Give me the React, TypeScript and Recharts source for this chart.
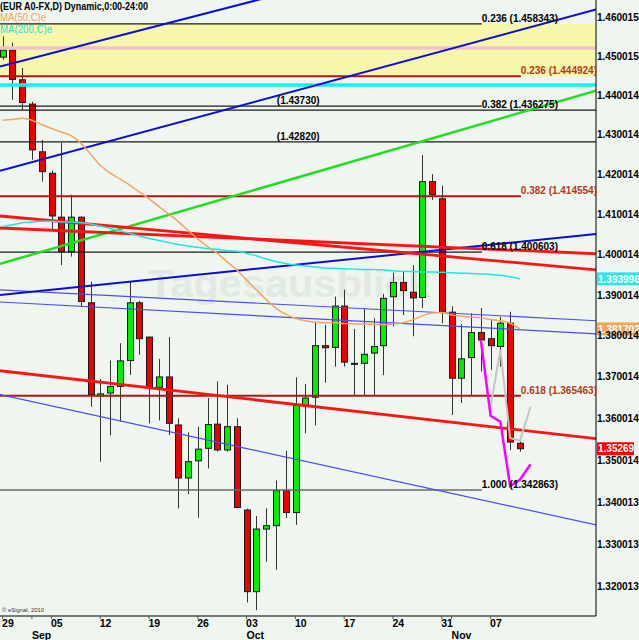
import React from 'react';
import { ComposedChart, Bar, Line, XAxis, YAxis, ReferenceLine, ReferenceArea, ReferenceDot } from 'recharts';

const W = 639;
const H = 640;
const FONT = "'Liberation Sans', Arial, Helvetica, sans-serif";

// trading-day index: 0 = Mon 29 Aug 2011 ... 53 = Thu 10 Nov 2011
const opens = [1.4498, 1.4516, 1.4440, 1.4378, 1.4257, 1.4203, 1.4093, 1.4007, 1.4093, 1.3881,
  1.3654, 1.3661, 1.3677, 1.3740, 1.3881, 1.3797, 1.3675, 1.3700, 1.3584, 1.3457,
  1.3498, 1.3528, 1.3586, 1.3524, 1.3580, 1.3381, 1.3189, 1.3336, 1.3344, 1.3427,
  1.3375, 1.3632, 1.3651, 1.3776, 1.3772, 1.3873, 1.3733, 1.3733, 1.3758, 1.3776,
  1.3896, 1.3931, 1.3907, 1.3894, 1.4182, 1.4139, 1.3858, 1.3697, 1.3747, 1.3808,
  1.3793, 1.3774, 1.3831, 1.3540];
const highs = [1.4551, 1.4535, 1.4470, 1.4384, 1.4287, 1.4210, 1.4280, 1.4149, 1.4095, 1.3933,
  1.3695, 1.3740, 1.3782, 1.3933, 1.3886, 1.3798, 1.3744, 1.3797, 1.3600, 1.3566,
  1.3580, 1.3649, 1.3689, 1.3681, 1.3600, 1.3384, 1.3367, 1.3385, 1.3451, 1.3522,
  1.3699, 1.3683, 1.3835, 1.3827, 1.3896, 1.3913, 1.3817, 1.3868, 1.3843, 1.3903,
  1.3955, 1.3960, 1.3974, 1.4249, 1.4201, 1.4172, 1.3872, 1.3829, 1.3855, 1.3868,
  1.3839, 1.3847, 1.3859, 1.3552];
const lows = [1.4491, 1.4389, 1.4363, 1.4237, 1.4182, 1.4063, 1.3974, 1.3995, 1.3873, 1.3628,
  1.3496, 1.3559, 1.3592, 1.3705, 1.3754, 1.3588, 1.3595, 1.3560, 1.3385, 1.3419,
  1.3363, 1.3480, 1.3520, 1.3520, 1.3385, 1.3164, 1.3146, 1.3259, 1.3240, 1.3362,
  1.3346, 1.3564, 1.3583, 1.3686, 1.3725, 1.3725, 1.3654, 1.3654, 1.3656, 1.3705,
  1.3823, 1.3851, 1.3799, 1.3868, 1.4136, 1.3831, 1.3608, 1.3637, 1.3656, 1.3713,
  1.3717, 1.3725, 1.3524, 1.3520];
const closes = [1.4516, 1.4441, 1.4382, 1.4262, 1.4207, 1.4096, 1.4007, 1.4093, 1.3884, 1.3657,
  1.3659, 1.3677, 1.3739, 1.3881, 1.3793, 1.3675, 1.3700, 1.3588, 1.3457, 1.3496,
  1.3526, 1.3585, 1.3524, 1.3580, 1.3387, 1.3189, 1.3336, 1.3344, 1.3427, 1.3375,
  1.3632, 1.3649, 1.3776, 1.3771, 1.3873, 1.3736, 1.3732, 1.3755, 1.3774, 1.3892,
  1.3931, 1.3911, 1.3893, 1.4182, 1.4149, 1.3859, 1.3697, 1.3744, 1.3808, 1.3790,
  1.3776, 1.3831, 1.3543, 1.3527];

const ma50 = [1.4337, 1.4339, 1.4342, 1.4337, 1.4326, 1.4316, 1.4307, 1.4298, 1.4279, 1.4252,
  1.4223, 1.4204, 1.4189, 1.4174, 1.4156, 1.4139, 1.4120, 1.4101, 1.4082, 1.4060,
  1.4039, 1.4020, 1.4003, 1.3982, 1.3962, 1.3937, 1.3913, 1.3889, 1.3868, 1.3853,
  1.3843, 1.3837, 1.3833, 1.3832, 1.3832, 1.3830, 1.3829, 1.3829, 1.3828, 1.3827,
  1.3829, 1.3832, 1.3839, 1.3849, 1.3856, 1.3857, 1.3851, 1.3848, 1.3846, 1.3844,
  1.3840, 1.3837, 1.3831, 1.3817];
const ma200 = [1.4070, 1.4074, 1.4079, 1.4081, 1.4083, 1.4083, 1.4081, 1.4081, 1.4080, 1.4076,
  1.4071, 1.4065, 1.4059, 1.4053, 1.4046, 1.4040, 1.4035, 1.4030, 1.4025, 1.4021,
  1.4018, 1.4015, 1.4013, 1.4010, 1.4008, 1.4003, 1.3997, 1.3989, 1.3983, 1.3978,
  1.3974, 1.3972, 1.3969, 1.3967, 1.3966, 1.3965, 1.3964, 1.3963, 1.3963, 1.3962,
  1.3960, 1.3958, 1.3958, 1.3957, 1.3957, 1.3956, 1.3955, 1.3954, 1.3953, 1.3952,
  1.3951, 1.3949, 1.3945, 1.3940];

// projections
const projMagentaIdx = [49, 50, 51, 52, 53, 54.1];
const projMagenta = [1.3790, 1.3606, 1.3592, 1.3438, 1.3453, 1.3490];
const projGrayIdx = [50, 51, 52, 53, 54.1];
const projGray = [1.3628, 1.3766, 1.3553, 1.3546, 1.3628];

// axis ticks
const dayTickIdx = [0, 5, 10, 15, 20, 25, 30, 35, 40, 45, 50];
const dayTickLabels = ['29', '05', '12', '19', '26', '03', '10', '17', '24', '31', '07'];
const monthTickIdx = [3, 25, 46];
const monthTickLabels = ['Sep', 'Oct', 'Nov'];
const priceTicks = [1.320013, 1.330013, 1.340013, 1.350014, 1.360014, 1.370014, 1.380014,
  1.390014, 1.400014, 1.410014, 1.420014, 1.430014, 1.440014, 1.450015, 1.460015];

const X_MIN = -0.266;
const X_MAX = 60.8;
const Y_MIN = 1.31323;
const Y_MAX = 1.46454;

// trend lines: price at left edge, price at right edge
const trendBlueUpper = [1.4474, 1.4874];
const trendBlueMain = [1.4209, 1.4621];
const trendBlueMid = [1.3900, 1.4051];
const trendGreen = [1.3977, 1.4412];
const trendRedA = [1.4066, 1.4002];
const trendRedB = [1.4096, 1.3962];
const trendRedLow = [1.3715, 1.3551];
const trendThinLow = [1.3657, 1.3346];
const trendThinU1 = [1.3913, 1.3837];
const trendThinU2 = [1.3883, 1.3805];

// fibonacci / horizontal levels
const fibLevels = [1.458343, 1.444924, 1.43730, 1.436275, 1.42820, 1.414554, 1.400603, 1.365463, 1.342863];
const fibTexts = ['0.236 (1.458343)', '0.236 (1.444924)', '(1.43730)', '0.382 (1.436275)', '(1.42820)',
  '0.382 (1.414554)', '0.618 (1.400603)', '0.618 (1.365463)', '1.000 (1.342863)'];
const fibEndIdx = [49.1, 53.1, 49.1, 60.8, 60.8, 53.1, 49.1, 53.1, 49.1];
const fibLabelIdx = [49.1, 53.1, 28.1, 49.1, 28.1, 53.1, 49.1, 53.1, 49.1];
const fibKind = ['k', 'r', 'k', 'k', 'k', 'r', 'k', 'r', 'g'];

const yellowZone = [1.444924, 1.458343];
const pinkLevel = 1.45216;
const cyanLevel = 1.44269;

const lastClose = 1.35269;
const ma50Last = 1.381702;
const ma200Last = 1.393996;

const fibStroke: Record<string, string> = { k: '#1a1a1a', r: '#a81a14', g: '#6a6a6a' };
const fibWidth: Record<string, number> = { k: 1.2, r: 2, g: 1.5 };
const fibText: Record<string, string> = { k: '#000000', r: '#b03c1c', g: '#000000' };

const Candle = (props: any) => {
  const { x, y, width, height, payload } = props;
  if (!payload || x == null || y == null) return null;
  const top = Math.min(y, y + height);
  const bot = Math.max(y, y + height);
  const lh = Math.log(payload.h);
  const ll = Math.log(payload.l);
  const span = lh - ll || 1e-9;
  const py = (v: number) => top + ((lh - Math.log(v)) / span) * (bot - top);
  const cx = Math.round(x + width / 2) + 0.5;
  const up = payload.c >= payload.o;
  const bt = py(Math.max(payload.o, payload.c));
  const bb = py(Math.min(payload.o, payload.c));
  return (
    <g>
      <line x1={cx} x2={cx} y1={top} y2={bot} stroke="#333333" strokeWidth={1} />
      <rect x={cx - 3} y={bt} width={6} height={Math.max(bb - bt, 1)}
        fill={up ? '#00ee00' : '#ee0000'} stroke="#1a1a1a" strokeWidth={1} />
    </g>
  );
};

const DateTick = (props: any) => {
  const { x, y, payload } = props;
  const v = payload?.value;
  const di = dayTickIdx.indexOf(v);
  const mi = monthTickIdx.indexOf(v);
  return (
    <g>
      <line x1={x} x2={x} y1={y} y2={y + 3} stroke="#555" />
      {di >= 0 && (
        <text x={x - 0.5} y={y + 11} fontSize={10.5} fontWeight="bold" fill="#000" fontFamily={FONT}>
          {dayTickLabels[di]}
        </text>
      )}
      {mi >= 0 && (
        <text x={x} y={y + 22.5} fontSize={10.5} fontWeight="bold" fill="#000" fontFamily={FONT}>
          {monthTickLabels[mi]}
        </text>
      )}
    </g>
  );
};

const makeFibLabel = (text: string, color: string) => (props: any) => {
  const vb = props.viewBox || {};
  const x = vb.cx ?? vb.x ?? 0;
  const y = vb.cy ?? vb.y ?? 0;
  return (
    <text x={x} y={y - 2} fill={color} fontSize={10} fontWeight="bold" fontFamily={FONT}>
      {text}
    </text>
  );
};

const makeTag = (text: string, bg: string) => (props: any) => {
  const vb = props.viewBox || {};
  const x = (vb.cx ?? vb.x ?? 0) + 1;
  const y = vb.cy ?? vb.y ?? 0;
  const w = text.length > 7 ? 42 : 37;
  return (
    <g>
      <rect x={x} y={y - 6.5} width={w} height={13} fill={bg} />
      <text x={x + 1} y={y + 3.7} fill="#ffffff" fontSize={10} fontWeight="bold" fontFamily={FONT}>
        {text}
      </text>
    </g>
  );
};

const seg = (pair: number[]) => [
  { x: X_MIN, y: pair[0] },
  { x: X_MAX, y: pair[1] },
];

export default function App() {
  const candles = opens.map((o, i) => ({ i, o, h: highs[i], l: lows[i], c: closes[i] }));
  const ma50Data = ma50.map((v, i) => ({ i, v }));
  const ma200Data = ma200.map((v, i) => ({ i, v }));
  const magentaData = projMagentaIdx.map((i, k) => ({ i, v: projMagenta[k] }));
  const grayData = projGrayIdx.map((i, k) => ({ i, v: projGray[k] }));
  const xTicks = Array.from(new Set([...dayTickIdx, ...monthTickIdx])).sort((a, b) => a - b);

  const trends = [
    { d: trendThinU1, stroke: '#4b4bff', w: 1.2 },
    { d: trendThinU2, stroke: '#4b4bff', w: 1.2 },
    { d: trendThinLow, stroke: '#4b4bff', w: 1.2 },
    { d: trendBlueUpper, stroke: '#0c0cd8', w: 2 },
    { d: trendBlueMain, stroke: '#0c0cd8', w: 2 },
    { d: trendBlueMid, stroke: '#0c0cd8', w: 2 },
    { d: trendGreen, stroke: '#22dd22', w: 2.5 },
    { d: trendRedA, stroke: '#ff1414', w: 2.8 },
    { d: trendRedB, stroke: '#ff1414', w: 2.8 },
    { d: trendRedLow, stroke: '#ff1414', w: 2.8 },
  ];

  return (
    <div style={{ position: 'absolute', left: 0, top: 0, width: W, height: H, background: '#eff5ef', overflow: 'hidden' }}>
      <svg width={W} height={H} style={{ position: 'absolute', left: 0, top: 0 }}>
        <text x={148} y={297} fontSize={38} fontWeight="bold" fill="#e0eae0" fontFamily={FONT}
          textLength={283} lengthAdjust="spacingAndGlyphs">Tagesausblick</text>
      </svg>
      <div style={{ position: 'absolute', left: 0, top: 0 }}>
        <ComposedChart width={W} height={H} data={candles} margin={{ top: 0, right: 0, bottom: 0, left: 0 }}>
          <XAxis type="number" dataKey="i" domain={[X_MIN, X_MAX]} allowDataOverflow ticks={xTicks}
            interval={0} tick={DateTick} tickLine={false} tickSize={0} tickMargin={0}
            axisLine={{ stroke: '#000', strokeWidth: 1 }} height={24} />
          <YAxis orientation="right" scale="log" domain={[Y_MIN, Y_MAX]} allowDataOverflow ticks={priceTicks}
            interval={0} width={43} tickLine={false} tickSize={0} tickMargin={1}
            tickFormatter={(v: number) => v.toFixed(6)}
            tick={{ fill: '#000', fontSize: 10, fontWeight: 'bold', fontFamily: FONT }}
            axisLine={{ stroke: '#000', strokeWidth: 1 }} />

          <ReferenceArea y1={yellowZone[0]} y2={yellowZone[1]} x1={X_MIN} x2={X_MAX} fill="#f7f7ab" fillOpacity={1} stroke="none" ifOverflow="visible" />
          <ReferenceLine segment={seg([pinkLevel, pinkLevel])} stroke="#f2c2ca" strokeWidth={3.5} ifOverflow="visible" />
          <ReferenceLine segment={seg([cyanLevel, cyanLevel])} stroke="#14f0f0" strokeWidth={3.5} ifOverflow="visible" />

          {fibLevels.map((lv, k) => (
            <ReferenceLine key={'fib' + k}
              segment={[{ x: X_MIN, y: lv }, { x: fibEndIdx[k], y: lv }]}
              stroke={fibStroke[fibKind[k]]} strokeWidth={fibWidth[fibKind[k]]} ifOverflow="visible" />
          ))}

          {trends.map((t, k) => (
            <ReferenceLine key={'tr' + k} segment={seg(t.d)} stroke={t.stroke} strokeWidth={t.w} ifOverflow="hidden" />
          ))}

          <Line data={ma200Data} dataKey="v" type="monotone" stroke="#22e4e4" strokeWidth={1.5} dot={false} activeDot={false} isAnimationActive={false} />
          <Line data={ma50Data} dataKey="v" type="monotone" stroke="#f4a460" strokeWidth={1.5} dot={false} activeDot={false} isAnimationActive={false} />

          <Bar dataKey={(d: any) => [d.l, d.h]} barSize={6} shape={Candle} activeBar={false} isAnimationActive={false} />

          <Line data={grayData} dataKey="v" type="linear" stroke="#c4c4c4" strokeWidth={2} dot={false} activeDot={false} isAnimationActive={false} />
          <Line data={magentaData} dataKey="v" type="linear" stroke="#ff00ff" strokeWidth={2.5} dot={false} activeDot={false} isAnimationActive={false} />

          {fibLevels.map((lv, k) => (
            <ReferenceDot key={'fl' + k} x={fibLabelIdx[k]} y={lv} r={0.01} fill="none" stroke="none"
              ifOverflow="visible" label={makeFibLabel(fibTexts[k], fibText[fibKind[k]])} />
          ))}

          <ReferenceDot x={X_MAX} y={ma200Last} r={0.01} fill="none" stroke="none" ifOverflow="visible"
            label={makeTag(ma200Last.toFixed(6), '#2fe6e6')} />
          <ReferenceDot x={X_MAX} y={ma50Last} r={0.01} fill="none" stroke="none" ifOverflow="visible"
            label={makeTag(ma50Last.toFixed(6), '#f0a55a')} />
          <ReferenceDot x={X_MAX} y={lastClose} r={0.01} fill="none" stroke="none" ifOverflow="visible"
            label={makeTag(lastClose.toFixed(5), '#ff0000')} />
        </ComposedChart>
      </div>
      <svg width={W} height={H} style={{ position: 'absolute', left: 0, top: 0, pointerEvents: 'none' }}>
        <text x={0} y={10} fontSize={11} fontWeight="bold" fill="#000" fontFamily={FONT}
          textLength={148} lengthAdjust="spacingAndGlyphs">(EUR A0-FX,D) Dynamic,0:00-24:00</text>
        <text x={0} y={20.5} fontSize={11} fill="#f4a460" fontFamily={FONT}
          textLength={46} lengthAdjust="spacingAndGlyphs">MA(50,C)e</text>
        <text x={0} y={33} fontSize={11} fill="#1ee0e0" fontFamily={FONT}
          textLength={52} lengthAdjust="spacingAndGlyphs">MA(200,C)e</text>
        <text x={2} y={612} fontSize={6} fill="#333" fontFamily={FONT}
          textLength={42} lengthAdjust="spacingAndGlyphs">© eSignal, 2010</text>
      </svg>
    </div>
  );
}
